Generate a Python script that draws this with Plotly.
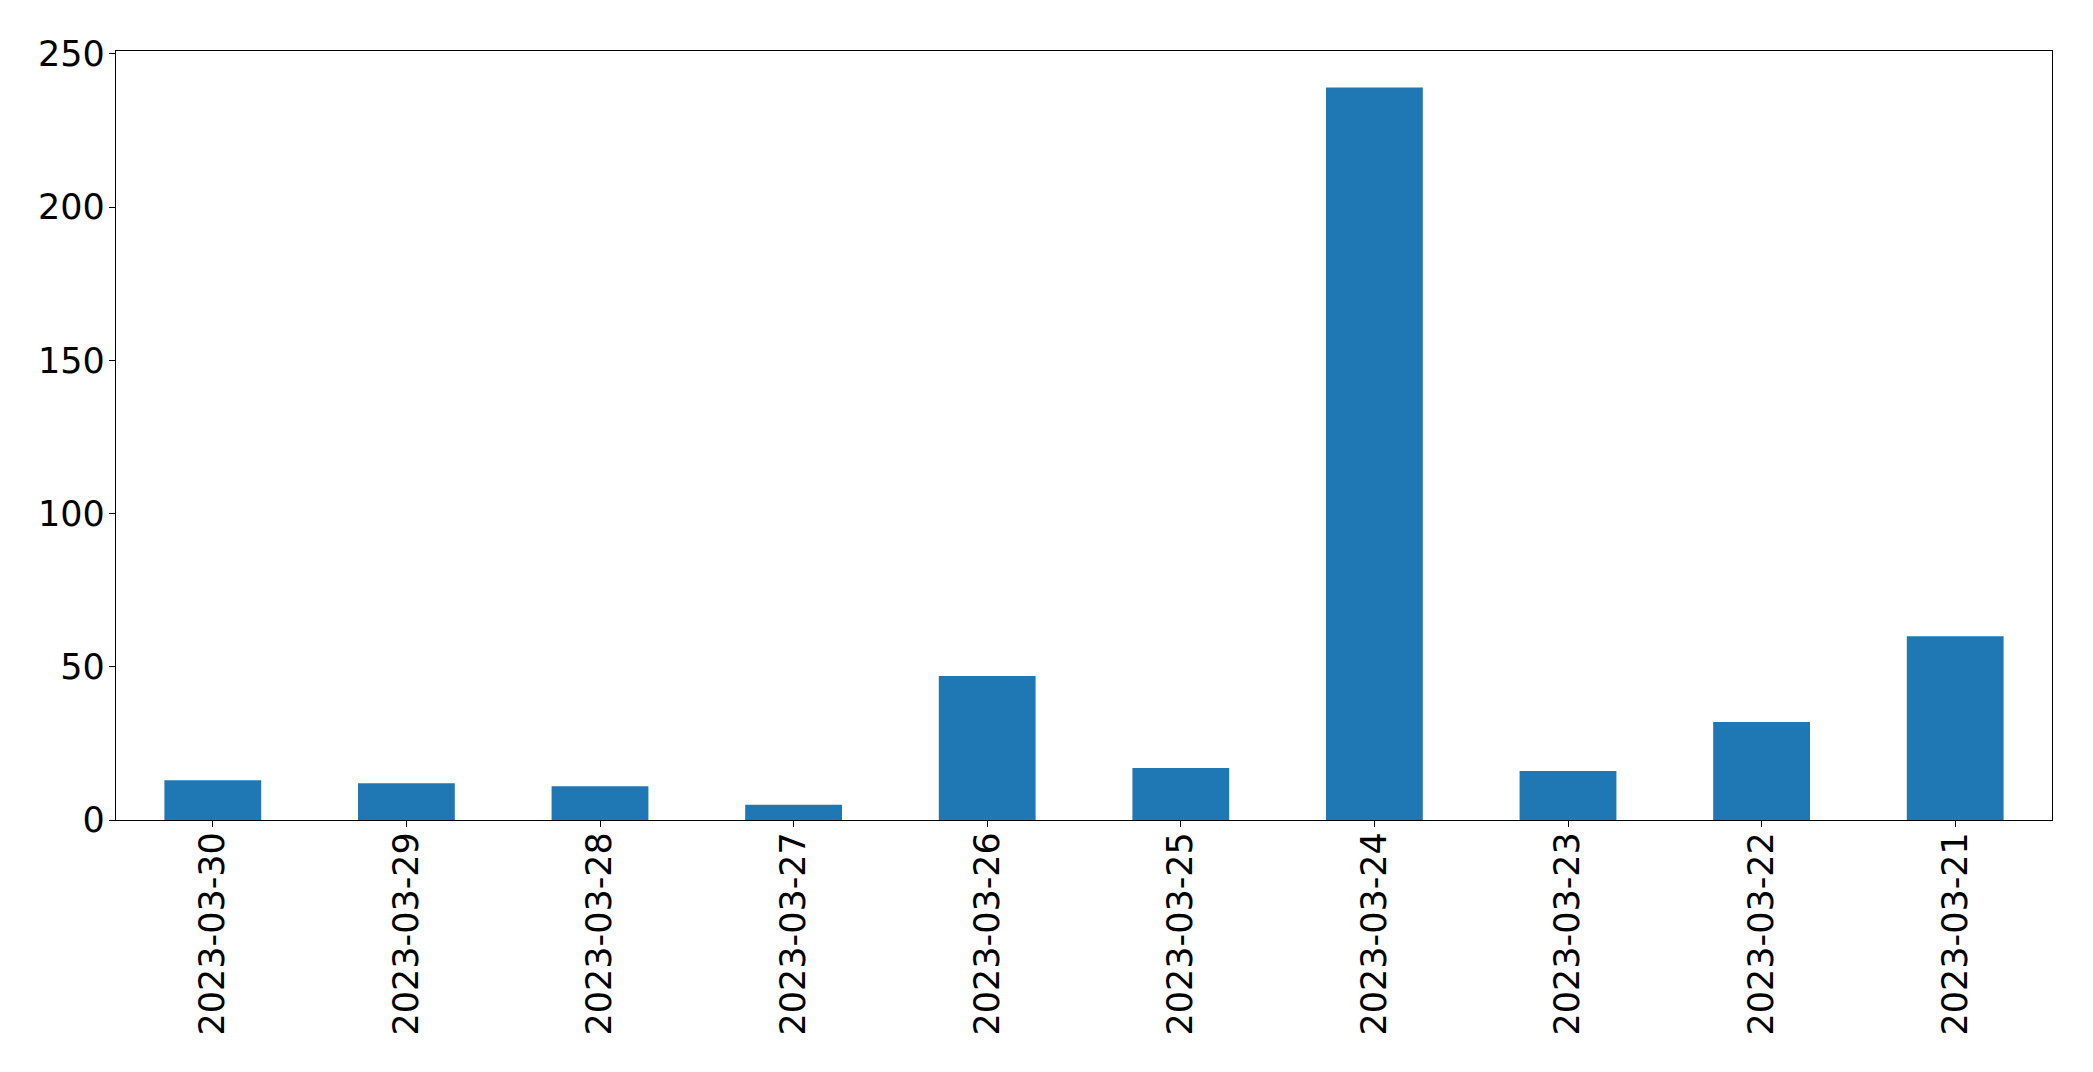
import plotly.graph_objects as go

dates = ["2023-03-30", "2023-03-29", "2023-03-28", "2023-03-27", "2023-03-26",
         "2023-03-25", "2023-03-24", "2023-03-23", "2023-03-22", "2023-03-21"]
counts = [13, 12, 11, 5, 47, 17, 239, 16, 32, 60]

fig = go.Figure(go.Bar(x=dates, y=counts, marker=dict(color="#1f77b4", line=dict(width=0)),
                       width=0.5))

fig.update_layout(
    width=2093, height=1072,
    margin=dict(l=108, r=49, t=43, b=260),
    paper_bgcolor="white", plot_bgcolor="white",
    font=dict(family="DejaVu Sans", size=35, color="black"),
    showlegend=False,
)
fig.update_xaxes(
    type="category", range=[-0.5, 9.5], tickangle=-90,
    showline=True, mirror=True, linecolor="black", linewidth=1.3,
    ticks="outside", ticklen=6, tickwidth=1.3, tickcolor="black",
    showgrid=False, zeroline=False, ticklabelstandoff=-9,
)
fig.update_yaxes(
    range=[0, 250.95], tickvals=[0, 50, 100, 150, 200, 250],
    showline=True, mirror=True, linecolor="black", linewidth=1.3,
    ticks="outside", ticklen=6, tickwidth=1.3, tickcolor="black",
    showgrid=False, zeroline=False, ticklabelstandoff=-3,
)

fig.write_html("out.html")
